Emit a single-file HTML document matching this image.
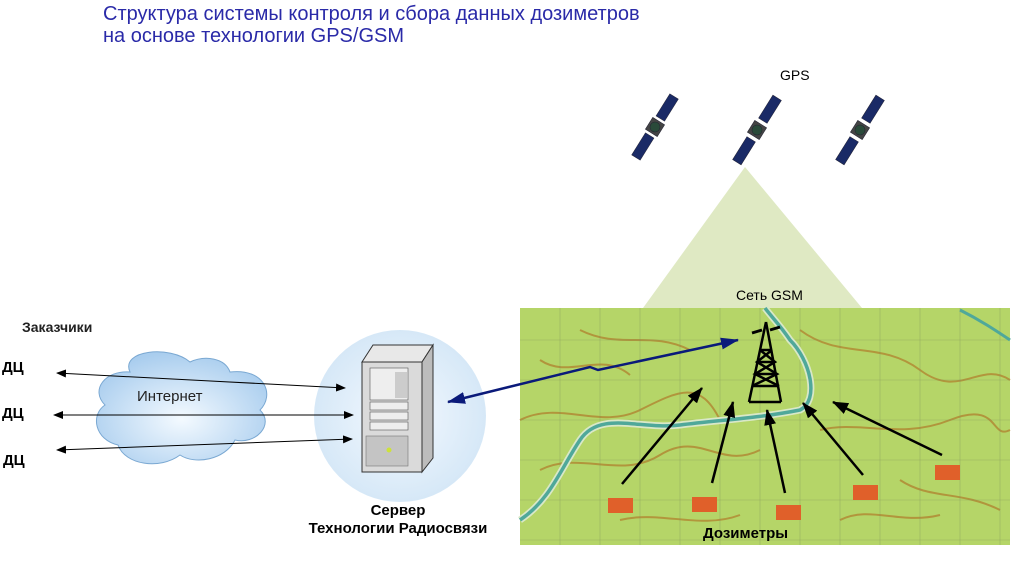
<!DOCTYPE html>
<html><head><meta charset="utf-8"><style>
body{margin:0;width:1024px;height:567px;background:#fff;overflow:hidden;font-family:"Liberation Sans",sans-serif}
</style></head><body>
<svg width="1024" height="567" xmlns="http://www.w3.org/2000/svg" font-family="Liberation Sans, sans-serif">
<defs>
<marker id="ab" markerWidth="10" markerHeight="8" refX="9" refY="4" orient="auto-start-reverse" markerUnits="userSpaceOnUse"><path d="M0,0 L10,4 L0,8 z" fill="#000"/></marker>
<marker id="abig" markerWidth="16" markerHeight="12" refX="15" refY="6" orient="auto-start-reverse" markerUnits="userSpaceOnUse"><path d="M0,0 L16,6 L0,12 z" fill="#000"/></marker>
<marker id="ablue" markerWidth="18" markerHeight="12" refX="17" refY="6" orient="auto-start-reverse" markerUnits="userSpaceOnUse"><path d="M0,0 L18,6 L0,12 z" fill="#0a1a7a"/></marker>
<radialGradient id="cg" cx="50%" cy="50%" r="50%"><stop offset="0" stop-color="#f4f9ff"/><stop offset="1" stop-color="#d6e8f7"/></radialGradient>
<radialGradient id="cl" cx="50%" cy="60%" r="60%"><stop offset="0" stop-color="#f4faff"/><stop offset="1" stop-color="#a9cdee"/></radialGradient>
</defs>
<text x="103" y="20" font-size="20" fill="#2a2aa8">Структура системы контроля и сбора данных дозиметров</text>
<text x="103" y="42" font-size="20" fill="#2a2aa8">на основе технологии GPS/GSM</text>
<text x="780" y="80" font-size="14" fill="#000">GPS</text>
<g fill="#1a2a66" stroke="#223" stroke-width="0.5">
<g transform="translate(655,127) rotate(-58)"><rect x="-36" y="-5" width="26" height="10"/><rect x="10" y="-5" width="26" height="10"/><rect x="-7" y="-7" width="14" height="14" fill="#444"/><circle r="5" fill="#2a4a3a"/></g>
<g transform="translate(757,130) rotate(-58)"><rect x="-38" y="-5" width="27" height="10"/><rect x="11" y="-5" width="27" height="10"/><rect x="-7" y="-7" width="14" height="14" fill="#444"/><circle r="5" fill="#2a4a3a"/></g>
<g transform="translate(860,130) rotate(-58)"><rect x="-38" y="-5" width="27" height="10"/><rect x="11" y="-5" width="27" height="10"/><rect x="-7" y="-7" width="14" height="14" fill="#444"/><circle r="5" fill="#2a4a3a"/></g>
</g>
<polygon points="745,167 643,308 862,308" fill="#dfe9c3"/>
<text x="736" y="300" font-size="14" fill="#000">Сеть GSM</text>
<rect x="520" y="308" width="490" height="237" fill="#b5d568"/>
<g fill="none" stroke="#b07a2a" stroke-width="2" opacity="0.7">
<path d="M520,420 C560,400 600,430 640,410 S700,380 720,420"/>
<path d="M540,470 C580,450 620,480 660,455 S720,470 760,450"/>
<path d="M800,330 C840,360 880,340 920,370 S980,360 1010,380"/>
<path d="M820,430 C860,420 900,440 950,420 S990,440 1010,430"/>
<path d="M580,330 C620,350 650,330 690,350"/>
<path d="M900,480 C930,500 960,490 1000,510"/>
<path d="M620,520 C660,510 700,530 740,515"/>
<path d="M540,360 C570,380 600,350 630,375"/>
<path d="M840,520 C870,505 900,525 940,515"/>
</g>
<g stroke="#7a8a5a" stroke-width="0.6" opacity="0.5">
<path d="M560,308V545M600,308V545M640,308V545M680,308V545M720,308V545M760,308V545M800,308V545M840,308V545M880,308V545M920,308V545M960,308V545M1000,308V545"/>
<path d="M520,340H1010M520,380H1010M520,420H1010M520,460H1010M520,500H1010M520,540H1010"/>
</g>
<path d="M520,520 C550,500 560,470 580,440 C600,410 640,430 680,425 C720,420 760,418 800,410 C820,400 810,360 790,340 C780,325 770,315 765,308" fill="none" stroke="#d9e8c8" stroke-width="7"/>
<path d="M520,520 C550,500 560,470 580,440 C600,410 640,430 680,425 C720,420 760,418 800,410 C820,400 810,360 790,340 C780,325 770,315 765,308" fill="none" stroke="#4fa89a" stroke-width="3.5"/>
<path d="M960,310 C980,320 995,330 1010,340" fill="none" stroke="#4fa89a" stroke-width="3"/>
<g stroke="#000" stroke-width="2.5" fill="none">
<path d="M766,322 L749,402 M766,322 L781,402 M749,402 L781,402"/>
<path d="M760,350 L772,350 M757,362 L775,362 M755,374 L777,374 M752,386 L779,386"/>
<path d="M760,350 L775,362 L755,374 L779,386 M772,350 L757,362 L777,374 L752,386"/>
<path d="M752,333 L762,330 M770,330 L780,327" stroke-width="3"/>
</g>
<g stroke="#000" stroke-width="2.5" marker-end="url(#abig)">
<line x1="622" y1="484" x2="702" y2="388"/>
<line x1="712" y1="483" x2="733" y2="402"/>
<line x1="785" y1="493" x2="767" y2="410"/>
<line x1="863" y1="475" x2="803" y2="403"/>
<line x1="942" y1="455" x2="833" y2="402"/>
</g>
<g fill="#e0602a">
<rect x="608" y="498" width="25" height="15"/><rect x="692" y="497" width="25" height="15"/><rect x="776" y="505" width="25" height="15"/><rect x="853" y="485" width="25" height="15"/><rect x="935" y="465" width="25" height="15"/>
</g>
<text x="703" y="538" font-size="15" font-weight="bold" fill="#000">Дозиметры</text>
<text x="22" y="332" font-size="14" font-weight="bold" fill="#222">Заказчики</text>
<text x="2" y="372" font-size="15" font-weight="bold">ДЦ</text>
<text x="2" y="418" font-size="15" font-weight="bold">ДЦ</text>
<text x="3" y="465" font-size="15" font-weight="bold">ДЦ</text>
<path d="M130,372 C120,350 170,345 190,362 C205,355 225,358 230,372 C265,368 275,395 260,410 C275,425 255,445 235,440 C225,460 195,465 180,455 C160,470 125,465 118,445 C95,440 90,415 105,405 C90,390 105,370 130,372 z" fill="url(#cl)" stroke="#7aa8d2" stroke-width="1"/>
<text x="137" y="401" font-size="15" fill="#222">Интернет</text>
<circle cx="400" cy="416" r="86" fill="url(#cg)"/>
<polygon points="362,362 373,345 433,345 422,362" fill="#e8e8e8" stroke="#333"/>
<polygon points="422,362 433,345 433,458 422,472" fill="#bcbcbc" stroke="#333"/>
<rect x="362" y="362" width="60" height="110" fill="#dadada" stroke="#333"/>
<rect x="370" y="368" width="38" height="32" fill="#eee" stroke="#555" stroke-width="0.6"/>
<rect x="395" y="372" width="12" height="26" fill="#ccc"/>
<rect x="370" y="402" width="38" height="8" fill="#eee" stroke="#555" stroke-width="0.6"/>
<rect x="370" y="412" width="38" height="8" fill="#eee" stroke="#555" stroke-width="0.6"/>
<rect x="370" y="422" width="38" height="8" fill="#eee" stroke="#555" stroke-width="0.6"/>
<rect x="366" y="436" width="42" height="30" fill="#c4c4c4" stroke="#777" stroke-width="0.6"/>
<circle cx="389" cy="450" r="2.5" fill="#cde23a"/>
<text x="398" y="515" font-size="15" font-weight="bold" text-anchor="middle">Сервер</text>
<text x="398" y="533" font-size="15" font-weight="bold" text-anchor="middle">Технологии Радиосвязи</text>
<g stroke="#000" stroke-width="1">
<line x1="57" y1="373" x2="345" y2="388" marker-start="url(#ab)" marker-end="url(#ab)"/>
<line x1="54" y1="415" x2="353" y2="415" marker-start="url(#ab)" marker-end="url(#ab)"/>
<line x1="57" y1="450" x2="352" y2="439" marker-start="url(#ab)" marker-end="url(#ab)"/>
</g>
<polyline points="448,402 590,367 598,370 738,340" fill="none" stroke="#0a1a7a" stroke-width="2.5" marker-start="url(#ablue)" marker-end="url(#ablue)"/>
</svg>
</body></html>
